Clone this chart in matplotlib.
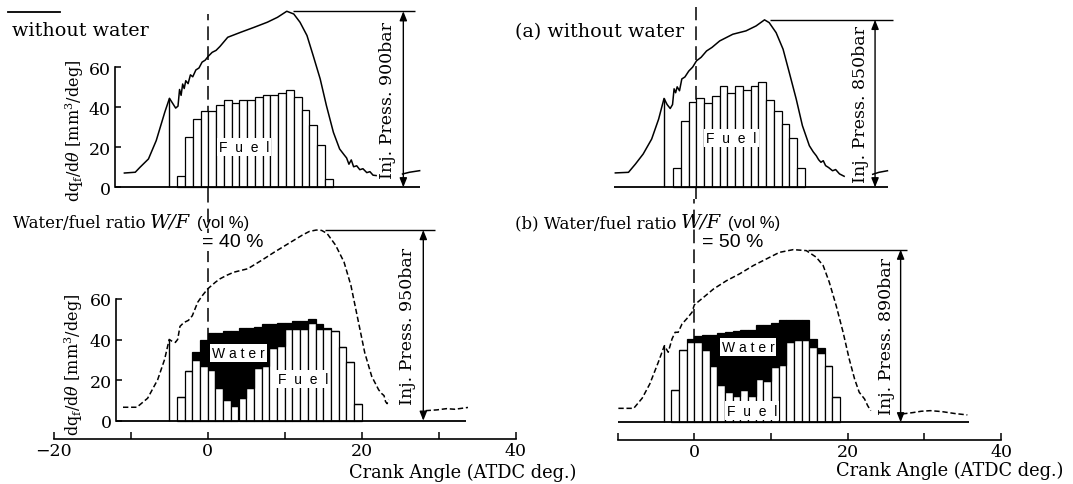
import numpy as np
import matplotlib
matplotlib.use("Agg")
import matplotlib.pyplot as plt
from matplotlib.lines import Line2D

plt.rcParams["font.family"] = ["DejaVu Serif"]
plt.rcParams["mathtext.fontset"] = "dejavuserif"

W, H = 1073, 485

# ------------------------------------------------------------------ data
# injection-rate histograms (mm^3/deg), 1-degree bins starting at *_bar_start
tl_bar_start = -4
tl_fuel = [5.8, 25, 34.2, 38, 38, 41.2, 43.8, 42.2, 43.8, 43.8, 45, 46.2,
           46.2, 47, 48.8, 45, 38.8, 31.2, 21.2, 4.2]

tr_bar_start = -3
tr_fuel = [9.5, 33.3, 42.5, 44.5, 42.2, 45.5, 50.8, 47.2, 50.8, 48.8, 50.8,
           52.5, 43.8, 38.3, 31.7, 24.5, 9.5]

bl_bar_start = -4
bl_fuel = [11.5, 24.5, 30, 27, 25, 16, 10, 7, 11, 16, 26, 27, 36, 37, 45, 45,
           45, 48, 45, 45, 44.2, 36.5, 29, 8]
bl_water = [0, 0, 4, 12.7, 18, 27.3, 34.3, 37.3, 34.5, 29.5, 20.3, 20.5, 11.5,
            11.3, 3.3, 4.3, 4.3, 2, 2.5, 0.5, 0, 0, 0, 0]

br_bar_start = -3
br_fuel = [15.8, 35.5, 39.6, 39.6, 35.8, 27.9, 18.6, 14.8, 13.1, 15.8, 13.1,
           21.3, 20.2, 27.3, 28.4, 39.6, 40.4, 40.4, 37, 34, 27.6, 12.5]
br_water = [0, 0, 1.4, 3.1, 7.4, 15.3, 25.4, 29.5, 31.7, 29.8, 32.5, 26.8,
            27.9, 21.6, 21.8, 10.6, 9.8, 9.8, 4, 2.5, 0, 0]

# injection pressure curves (crank angle deg, bar)
tl_deg = [-10.8, -9.4, -8.8, -7.7, -6.7, -5.6, -5.0, -4.6, -4.2, -3.9, -3.7,
          -3.5, -3.3, -3.1, -2.9, -2.6, -2.3, -2.0, -1.6, -1.2, -0.8, -0.4,
          0.0, 0.5, 1.0, 1.5, 2.5, 4.2, 5.9, 7.6, 8.9, 10.1, 11.0, 11.8, 12.7,
          13.5, 14.4, 15.2, 16.1, 16.9, 17.5, 17.8, 18.1, 18.4, 18.7, 19.1,
          19.5, 19.9, 20.4, 20.8, 21.2, 21.6]
tl_press = [73, 77, 102, 145, 239, 384, 455, 430, 405, 415, 500, 470, 528,
            505, 545, 530, 575, 565, 600, 610, 640, 650, 670, 690, 700, 720,
            767, 793, 818, 844, 869, 900, 886, 844, 776, 673, 554, 418, 281,
            196, 165, 150, 118, 140, 105, 110, 90, 95, 75, 80, 62, 60]
tl_tail_deg = [25.0, 25.9, 27.2]
tl_tail_press = [68, 77, 85]

tr_deg = [-10.5, -8.8, -7.9, -6.9, -5.8, -4.9, -4.2, -3.8, -3.4, -3.1, -2.9,
          -2.7, -2.5, -2.2, -1.9, -1.5, -1.0, -0.5, 0, 0.6, 1.3, 2.0, 3.0, 4.7,
          6.4, 7.7, 8.8, 9.4, 10.3, 11.2, 12.0, 12.9, 13.7, 14.6, 15.1, 15.5,
          15.8, 16.1, 16.4, 16.7, 17.1, 17.6, 18.0, 18.5, 19.1]
tr_press = [73, 76, 118, 169, 245, 346, 451, 420, 400, 420, 500, 480, 510,
            490, 550, 560, 590, 610, 642, 660, 692, 710, 743, 777, 794, 819,
            850, 836, 785, 701, 583, 448, 313, 211, 180, 160, 140, 127, 135,
            110, 100, 84, 90, 68, 56]
tr_tail_deg = [22.8, 23.6, 24.7]
tr_tail_press = [66, 76, 84]

bl_deg = [-11, -9.2, -7.8, -6.5, -5.6, -5.0, -4.6, -4.2, -3.9, -3.6, -3.1,
          -2.5, -2.0, -1.3, -0.7, 0, 0.4, 1.0, 1.6, 2.5, 3.4, 5.2, 7.0, 8.7,
          10.5, 12.3, 13.2, 14.1, 14.8, 15.5, 16.6, 17.7, 18.6, 19.5, 20.4,
          21.3, 22.2, 22.6, 22.9, 23.1, 23.3, 23.5]
bl_press = [67, 67, 112, 204, 305, 405, 395, 390, 405, 470, 489, 500, 523,
            590, 623, 657, 670, 690, 707, 725, 740, 757, 799, 841, 883, 925,
            943, 950, 948, 933, 875, 791, 674, 506, 338, 221, 154, 135, 125,
            95, 85, 104]
bl_tail_deg = [28.3, 29.8, 31.0, 32.1, 33.8]
bl_tail_press = [50, 54, 60, 57, 66]

br_deg = [-9.9, -7.9, -6.8, -5.8, -4.7, -3.9, -3.4, -2.9, -2.5, -2.1, -1.6,
          -1.0, -0.3, 0, 1.2, 2.5, 4.2, 5.9, 7.7, 9.4, 11.1, 12.9, 14.6, 15.9,
          16.8, 17.6, 18.5, 19.4, 20.2, 20.9, 21.5, 22.2, 22.6, 23.0]
br_press = [72, 72, 124, 198, 309, 395, 361, 430, 464, 464, 507, 533, 567,
            605, 644, 687, 730, 765, 808, 842, 876, 890, 885, 851, 808, 722,
            601, 464, 326, 223, 155, 120, 86, 60]
br_tail_deg = [27.1, 28.5, 29.6, 30.8, 32.3, 34.0, 35.6]
br_tail_press = [43, 50, 57, 60, 55, 45, 38]

# injection pressures and injection-start angles
tl_inj_press, tr_inj_press, bl_inj_press, br_inj_press = 900, 850, 950, 890
tl_start, tr_start, bl_start, br_start = -5.0, -4.2, -5.0, -3.9

y_ticks = [0, 20, 40, 60]
bl_xticks = [-20, -10, 0, 10, 20, 30, 40]
bl_xlabels = ["\u221220", "", "0", "", "20", "", "40"]
br_xticks = [-10, 0, 10, 20, 30, 40]
br_xlabels = ["", "0", "", "20", "", "40"]

# ------------------------------------------------------------------ figure
fig = plt.figure(figsize=(W / 100, H / 100), dpi=100)


def panel(box, deg0, ppd, zero, ppu, ppb):
    x0, x1, y0, y1 = box
    ax = fig.add_axes([x0 / W, 1 - y1 / H, (x1 - x0) / W, (y1 - y0) / H])
    ax.set_xlim((x0 - deg0) / ppd, (x1 - deg0) / ppd)
    ax.set_ylim((zero - y1) / ppu, (zero - y0) / ppu)
    axp = ax.twinx()
    axp.set_ylim((zero - y1) / ppb, (zero - y0) / ppb)
    for a in (ax, axp):
        a.patch.set_visible(False)
        for s in a.spines.values():
            s.set_visible(False)
    ax.set_xticks([])
    ax.set_yticks([])
    axp.set_yticks([])
    frac = lambda ypx: (y1 - ypx) / (y1 - y0)
    return ax, axp, frac


def draw(ax, axp, frac, bar_start, fuel, water, deg, press, tdeg, tpress,
         inj, start, base, arrow_x, line_x, text_x, zline, dashed):
    xs = bar_start + np.arange(len(fuel))
    # zero crank-angle reference line
    ax.axvline(0, ymin=frac(zline[1]), ymax=frac(zline[0]), color="k",
               lw=1.1, dashes=(9, 4), zorder=0.5)
    ax.bar(xs, fuel, width=1, align="edge", color="white", edgecolor="black",
           lw=0.9, zorder=2)
    if water is not None:
        ax.bar(xs, water, bottom=fuel, width=1, align="edge", color="black",
               edgecolor="black", lw=0.9, zorder=2)
    ax.hlines(0, base[0], base[1], color="k", lw=1.3, zorder=3)
    ls = dict(dashes=(3.5, 1.8)) if dashed else {}
    axp.plot(deg, press, color="k", lw=1.1, **ls)
    axp.plot(tdeg, tpress, color="k", lw=1.1, **ls)
    axp.vlines(start, 0, np.interp(start, deg, press), color="k", lw=1.0)
    axp.annotate("", xy=(arrow_x, inj), xytext=(arrow_x, 0),
                 arrowprops=dict(arrowstyle="<|-|>,head_length=0.55,head_width=0.22",
                                 color="k", lw=1.0, shrinkA=0, shrinkB=0))
    axp.hlines(inj, line_x[0], line_x[1], color="k", lw=1.0)
    axp.text(text_x, inj / 2, f"Inj. Press. {inj}bar", rotation=90,
             ha="center", va="center", fontsize=12.5)


def left_axis(ax, pos):
    sp = ax.spines["left"]
    sp.set_visible(True)
    sp.set_position(("data", pos))
    sp.set_bounds(0, 60)
    sp.set_linewidth(1.2)
    ax.set_yticks(y_ticks)
    ax.tick_params(axis="y", direction="in", length=4, width=1.1,
                   labelsize=12.5, pad=3)


def bottom_axis(ax, lo, ticks, labels):
    sp = ax.spines["bottom"]
    sp.set_visible(True)
    sp.set_bounds(lo, 40)
    sp.set_linewidth(1.2)
    ax.set_xticks(ticks)
    ax.set_xticklabels(labels)
    ax.tick_params(axis="x", direction="in", length=5, width=1.1,
                   labelsize=12.5, pad=2)


def lab(ax, x, y, s):
    ax.text(x, y, s, ha="center", va="center", fontsize=10,
            family="Liberation Sans", zorder=6,
            bbox=dict(facecolor="white", edgecolor="none", pad=1.5))


# top-left
ax, axp, fr = panel((100, 445, 5, 200), 208.3, 7.77, 188.3, 2.0, 0.1956)
draw(ax, axp, fr, tl_bar_start, tl_fuel, None, tl_deg, tl_press, tl_tail_deg,
     tl_tail_press, tl_inj_press, tl_start, (-12.0, 27.3), 25.1, (10.9, 26.6),
     23.1, (15, 200), False)
left_axis(ax, -12.0)
lab(ax, 4.6, 20, "F  u  e  l")

# top-right
ax, axp, fr = panel((560, 910, 5, 200), 696.5, 7.73, 188.3, 2.0, 0.197)
draw(ax, axp, fr, tr_bar_start, tr_fuel, None, tr_deg, tr_press, tr_tail_deg,
     tr_tail_press, tr_inj_press, tr_start, (-10.7, 24.8), 23.1, (9.5, 25.4),
     21.2, (8, 200), False)
lab(ax, 4.5, 24.7, "F  u  e  l")

# bottom-left
ax, axp, fr = panel((30, 540, 200, 440), 207.7, 7.7, 421.7, 2.03, 0.2007)
draw(ax, axp, fr, bl_bar_start, bl_fuel, bl_water, bl_deg, bl_press,
     bl_tail_deg, bl_tail_press, bl_inj_press, bl_start, (-11.9, 33.6), 28.0,
     (15.2, 29.5), 26.0, (200, 421.7), True)
left_axis(ax, -11.9)
bottom_axis(ax, -20, bl_xticks, bl_xlabels)
lab(ax, 4.0, 33.3, "W a t e r")
lab(ax, 12.4, 20.5, "F  u  e  l")
ax_bl = ax

# bottom-right
ax, axp, fr = panel((600, 1060, 200, 441), 694.3, 7.67, 423.3, 2.03, 0.194)
draw(ax, axp, fr, br_bar_start, br_fuel, br_water, br_deg, br_press,
     br_tail_deg, br_tail_press, br_inj_press, br_start, (-10.0, 35.8), 26.9,
     (14.8, 27.7), 25.1, (200, 423.3), True)
bottom_axis(ax, -10, br_xticks, br_xlabels)
lab(ax, 7.0, 37, "W a t e r")
lab(ax, 7.5, 5.8, "F  u  e  l")


# ------------------------------------------------------------------ texts
def ftext(x, y, s, **kw):
    return fig.text(x / W, 1 - y / H, s, **kw)


fig.add_artist(Line2D([8 / W, 60 / W], [1 - 13 / H, 1 - 13 / H], color="k", lw=1.3))
ftext(12, 31, "without water", fontsize=13.8, va="center")
ftext(515, 32, "(a) without water", fontsize=13.8, va="center")

ylab = r"dq$_\mathrm{f}$/d$\theta$ [mm$^3$/deg]"
ftext(75, 131, ylab, rotation=90, ha="center", va="center", fontsize=11.5)
ftext(74, 365, ylab, rotation=90, ha="center", va="center", fontsize=11.5)


def ratio_label(x, ybase, head):
    yb = H - ybase  # figure pixels from bottom
    t1 = ftext(x, ybase, head, fontsize=12, va="baseline")
    t2 = ax_bl.annotate("W/F", xy=(1, yb), xycoords=(t1, "figure pixels"),
                        xytext=(3, 0), textcoords="offset points",
                        va="baseline", fontsize=14, style="italic",
                        annotation_clip=False)
    ax_bl.annotate("(vol %)", xy=(1, yb), xycoords=(t2, "figure pixels"),
                   xytext=(5, 0), textcoords="offset points", va="baseline",
                   fontsize=12, family="Liberation Sans",
                   annotation_clip=False)


ratio_label(12.7, 228, "Water/fuel ratio")
ratio_label(515, 228, "(b) Water/fuel ratio")
ftext(201.7, 243, "= 40 %", fontsize=14, family="Liberation Sans",
      va="center", bbox=dict(facecolor="white", edgecolor="none", pad=0.3))
ftext(702, 243, "= 50 %", fontsize=14, family="Liberation Sans", va="center")

ftext(349, 473, "Crank Angle (ATDC deg.)", fontsize=12.8, va="center")
ftext(836, 471, "Crank Angle (ATDC deg.)", fontsize=12.8, va="center")

fig.savefig("out.png", dpi=100)
